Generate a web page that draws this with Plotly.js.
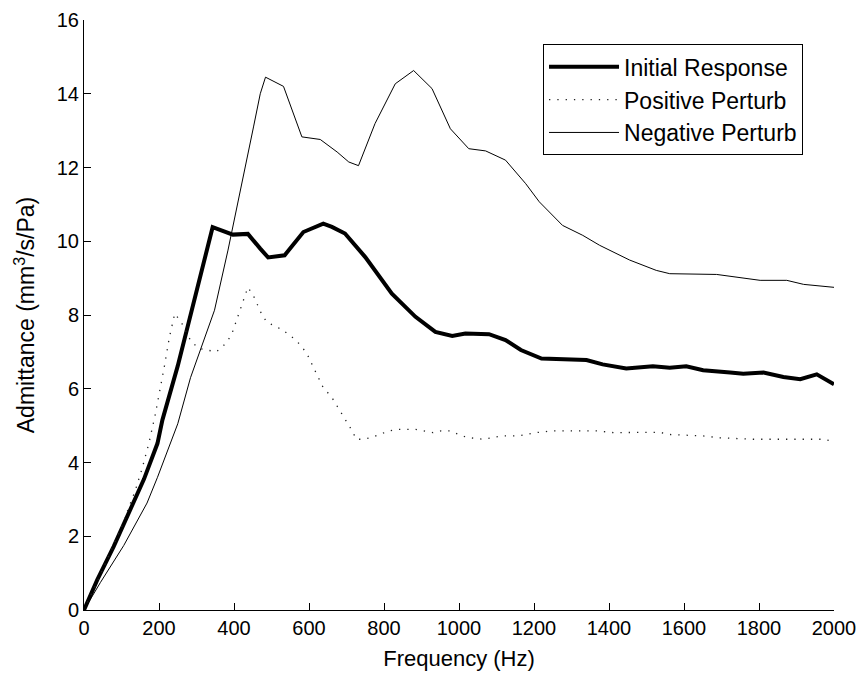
<!DOCTYPE html>
<html>
<head>
<meta charset="utf-8">
<script src="https://cdn.plot.ly/plotly-3.0.1.min.js"></script>
<style>html,body{margin:0;padding:0;background:#fff;}#chart{width:860px;height:677px;}</style>
</head>
<body>
<div id="chart"></div>
<script>
// Initial Response (thick solid)
const initialFreq = [0, 35, 79, 124, 160, 196, 209, 250, 300, 343, 397, 437, 470, 491, 535, 585, 638, 661, 696, 750, 821, 884, 937, 982, 1017, 1080, 1124, 1165, 1220, 1300, 1340, 1383, 1446, 1517, 1562, 1606, 1651, 1723, 1758, 1812, 1865, 1910, 1954, 2000];
const initialAdm  = [0, 0.81, 1.72, 2.75, 3.55, 4.52, 5.15, 6.62, 8.62, 10.38, 10.18, 10.2, 9.8, 9.56, 9.62, 10.25, 10.48, 10.39, 10.21, 9.57, 8.58, 7.95, 7.54, 7.43, 7.5, 7.48, 7.32, 7.05, 6.82, 6.8, 6.78, 6.66, 6.55, 6.61, 6.57, 6.61, 6.5, 6.44, 6.41, 6.44, 6.32, 6.26, 6.39, 6.12];

// Positive Perturb (dotted)
const positiveFreq = [0, 50, 100, 137, 155, 173, 190, 201, 214, 228, 242, 259, 286, 308, 353, 375, 393, 437, 451, 473, 487, 527, 553, 576, 594, 616, 638, 660, 688, 703, 715, 726, 746, 768, 790, 814, 837, 883, 905, 930, 952, 975, 997, 1021, 1065, 1090, 1114, 1159, 1205, 1250, 1366, 1412, 1535, 1562, 1651, 1696, 1785, 1973, 2000];
const positiveAdm  = [0, 1.1, 2.25, 3.25, 3.84, 4.52, 5.3, 5.87, 6.59, 7.41, 8.04, 7.81, 7.27, 7.09, 7.0, 7.2, 7.45, 8.75, 8.54, 8.04, 7.81, 7.61, 7.42, 7.2, 6.96, 6.49, 6.03, 5.78, 5.33, 5.09, 4.86, 4.63, 4.63, 4.68, 4.77, 4.86, 4.9, 4.9, 4.86, 4.81, 4.86, 4.86, 4.77, 4.68, 4.63, 4.68, 4.72, 4.72, 4.81, 4.86, 4.86, 4.81, 4.82, 4.76, 4.72, 4.67, 4.63, 4.63, 4.56];

// Negative Perturb (thin solid)
const negativeFreq = [0, 44, 106, 168, 196, 250, 284, 348, 384, 395, 426, 452, 470, 484, 532, 581, 630, 675, 706, 732, 776, 830, 879, 928, 977, 1026, 1071, 1124, 1178, 1214, 1276, 1330, 1375, 1455, 1526, 1562, 1687, 1740, 1803, 1874, 1919, 2000];
const negativeAdm  = [0, 0.75, 1.75, 2.9, 3.6, 5.05, 6.3, 8.13, 9.76, 10.3, 11.74, 13.1, 14.0, 14.45, 14.2, 12.83, 12.76, 12.42, 12.15, 12.05, 13.19, 14.27, 14.63, 14.14, 13.05, 12.51, 12.45, 12.2, 11.56, 11.07, 10.43, 10.16, 9.89, 9.49, 9.21, 9.12, 9.1, 9.02, 8.94, 8.94, 8.83, 8.75];

const seriesNames = ['Initial Response', 'Positive Perturb', 'Negative Perturb'];
const xTickVals = [0, 200, 400, 600, 800, 1000, 1200, 1400, 1600, 1800, 2000];
const yTickVals = [0, 2, 4, 6, 8, 10, 12, 14, 16];

const FONT = 'Liberation Sans, Arial, Helvetica, sans-serif';

const traces = [
  {x: initialFreq, y: initialAdm, name: seriesNames[0], mode: 'lines',
   line: {color: '#000', width: 4}},
  {x: positiveFreq, y: positiveAdm, name: seriesNames[1], mode: 'lines',
   line: {color: '#222', width: 1.3, dash: '1.3px,7px'}},
  {x: negativeFreq, y: negativeAdm, name: seriesNames[2], mode: 'lines',
   line: {color: '#000', width: 1}}
];

const layout = {
  width: 860, height: 677,
  margin: {l: 83.5, r: 26, t: 20, b: 67},
  paper_bgcolor: '#fff', plot_bgcolor: '#fff',
  font: {family: FONT, size: 20, color: '#000'},
  showlegend: true,
  legend: {
    x: 0.9587, xanchor: 'right', y: 0.959, yanchor: 'top',
    bgcolor: '#fff', bordercolor: '#000', borderwidth: 1,
    font: {family: FONT, size: 23, color: '#000'},
    traceorder: 'normal', itemwidth: 70
  },
  xaxis: {
    range: [0, 2000], tickvals: xTickVals, ticktext: xTickVals.map(String),
    ticks: 'inside', ticklen: 7, tickwidth: 1, tickcolor: '#000',
    showline: true, linecolor: '#000', linewidth: 1,
    showgrid: false, zeroline: false, fixedrange: true,
    tickfont: {family: FONT, size: 20, color: '#000'},
    title: {text: 'Frequency (Hz)', font: {family: FONT, size: 22, color: '#000'}, standoff: 12},
    automargin: false
  },
  yaxis: {
    range: [0, 16], tickvals: yTickVals, ticktext: yTickVals.map(String),
    ticks: 'inside', ticklen: 7, tickwidth: 1, tickcolor: '#000',
    showline: true, linecolor: '#000', linewidth: 1,
    showgrid: false, zeroline: false, fixedrange: true,
    tickfont: {family: FONT, size: 20, color: '#000'},
    title: {text: 'Admittance (mm<sup>3</sup>/s/Pa)', font: {family: FONT, size: 23, color: '#000'}, standoff: 15},
    automargin: false
  }
};

Plotly.newPlot('chart', traces, layout, {displayModeBar: false, staticPlot: true});
</script>
</body>
</html>
